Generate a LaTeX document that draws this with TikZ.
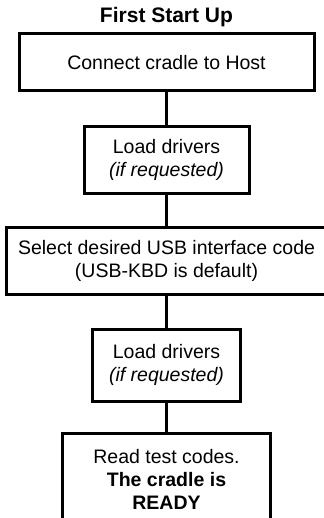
\documentclass[tikz,border=0pt]{standalone}
\usepackage{fontspec}
\setmainfont{Liberation Sans}
\usetikzlibrary{shapes.geometric}
\tikzstyle{heading} = [
    font=\fontsize{10.5}{12}\selectfont\bfseries,
    text centered
]
\tikzstyle{stepbox} = [
    rectangle,
    line width=1.5pt,
    font=\fontsize{9.75}{11.5}\selectfont,
    align=center,
    inner sep=0pt,
    draw=black, fill=white
]
\tikzstyle{connector} = [line width=1.5pt]

\begin{document}
\begin{tikzpicture}[node distance=50pt]
        \clip (0,0) rectangle (162pt,-259pt);
        % Draw blocks
        \node (title) [heading] at (83.25pt,-8.5pt) {First Start Up};
        \node (connect) [stepbox, minimum width=147.5pt, minimum height=28.5pt] at (83.25pt,-31.25pt) {Connect cradle to Host};
        \node (load1) [stepbox, below of=connect, yshift=1.25pt, minimum width=82.5pt, minimum height=33pt] {Load drivers\\\textit{(if requested)}};
        \node (select) [stepbox, below of=load1, yshift=-0.25pt, minimum width=160.5pt, minimum height=33.5pt] {Select desired USB interface code\\(USB-KBD is default)};
        \node (load2) [stepbox, below of=select, yshift=-2.25pt, minimum width=74pt, minimum height=36pt] {Load drivers\\\textit{(if requested)}};
        \node (ready) [stepbox, below of=load2, yshift=-7pt, minimum width=104pt, minimum height=46pt] {Read test codes.\\\textbf{The cradle is}\\\textbf{READY}};

        % Draw lines
        \draw [connector] (connect) -- (load1);
        \draw [connector] (load1) -- (select);
        \draw [connector] (select) -- (load2);
        \draw [connector] (load2) -- (ready);
    \end{tikzpicture}
\end{document}
